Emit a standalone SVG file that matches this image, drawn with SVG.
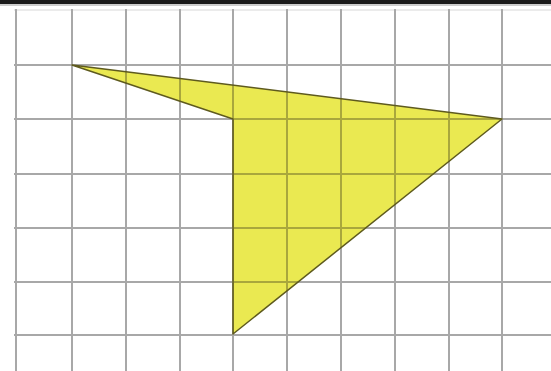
<svg xmlns="http://www.w3.org/2000/svg" width="551" height="371" viewBox="0 0 551 371">
<style>
.g{stroke:#a8a8a8;stroke-width:2;fill:none}
.gi{stroke:#a9a73c;stroke-width:2;fill:none}
.fill{fill:#eae951;stroke:none}
.edge{fill:none;stroke:#5e5a1e;stroke-width:1.5;stroke-linejoin:round}
</style>
<defs>
<clipPath id="clip"><polygon points="72,65 233,119 233,334 502,119"/></clipPath>
<g id="lines">
<line x1="14" y1="65" x2="551" y2="65"/>
<line x1="14" y1="119" x2="551" y2="119"/>
<line x1="14" y1="174" x2="551" y2="174"/>
<line x1="14" y1="228" x2="551" y2="228"/>
<line x1="14" y1="282" x2="551" y2="282"/>
<line x1="14" y1="335" x2="551" y2="335"/>
<line x1="16" y1="9" x2="16" y2="371"/>
<line x1="72" y1="9" x2="72" y2="371"/>
<line x1="126" y1="9" x2="126" y2="371"/>
<line x1="180" y1="9" x2="180" y2="371"/>
<line x1="233" y1="9" x2="233" y2="371"/>
<line x1="287" y1="9" x2="287" y2="371"/>
<line x1="341" y1="9" x2="341" y2="371"/>
<line x1="395" y1="9" x2="395" y2="371"/>
<line x1="449" y1="9" x2="449" y2="371"/>
<line x1="502" y1="9" x2="502" y2="371"/>
</g>
</defs>
<rect width="551" height="371" fill="#ffffff"/>
<rect x="0" y="0" width="551" height="4" fill="#1a1a1a"/>
<line x1="0" y1="5" x2="551" y2="5" stroke="#999" stroke-width="1"/>
<g id="grid">
<line x1="14" y1="10" x2="551" y2="10" stroke="#e4e4e4" stroke-width="1.5"/>
<use href="#lines" class="g"/>
</g>
<g id="shape">
<polygon class="fill" points="72,65 233,119 233,334 502,119"/>
<use href="#lines" class="gi" clip-path="url(#clip)"/>
<polygon class="edge" points="72,65 233,119 233,334 502,119"/>
</g>
</svg>
